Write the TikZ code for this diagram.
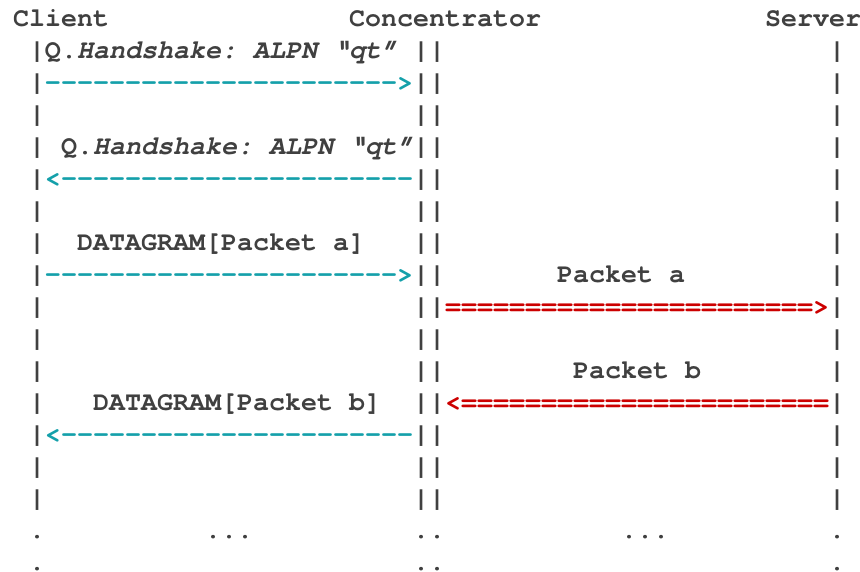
\documentclass[tikz,border=0pt]{standalone}
\usepackage{fontspec}
\setmonofont{TeX Gyre Cursor}
\definecolor{ink}{HTML}{404040}
\definecolor{quic}{HTML}{14A0AA}
\definecolor{relay}{HTML}{CC0000}
\tikzset{
  glyph/.style={anchor=base west, inner sep=0pt, outer sep=0pt, text=ink,
    font=\fontsize{26.67pt}{32pt}\selectfont\ttfamily\bfseries},
  quicmsg/.style={text=quic},
  relaymsg/.style={text=relay},
}
% place text at a character cell: column #3, row #4
\newcommand\gridtext[5][]{%
  \node[glyph,#1] (#2) at ({(13+16*#3)*1pt},{-(26.5+32*(#4-1))*1pt}) {#5};}
\begin{document}
\begin{tikzpicture}
\useasboundingbox (0,0) rectangle (860pt,-572pt);

% participants
\gridtext{client}{0}{1}{Client}
\gridtext{concentrator}{21}{1}{Concentrator}
\gridtext{server}{47}{1}{Server}

% lifelines
\foreach \r in {2,...,16} {
  \gridtext{lc\r}{1}{\r}{|}
  \gridtext{lm\r}{25}{\r}{||}
  \gridtext{ls\r}{51}{\r}{|}
}
\gridtext{dc1}{1}{17}{.}
\gridtext{dm1}{25}{17}{..}
\gridtext{ds1}{51}{17}{.}
\gridtext{dc2}{1}{18}{.}
\gridtext{dm2}{25}{18}{..}
\gridtext{ds2}{51}{18}{.}
\gridtext{ellA}{12}{17}{...}
\gridtext{ellB}{38}{17}{...}

% handshake
\gridtext{hs1}{2}{2}{Q.\itshape Handshake: ALPN “qt”}
\gridtext[quicmsg]{ar1}{2}{3}{---------------------->}
\gridtext{hs2}{3}{5}{Q.\itshape Handshake: ALPN “qt”}
\gridtext[quicmsg]{ar2}{2}{6}{<----------------------}

% packet a
\gridtext{dga}{4}{8}{DATAGRAM[Packet a]}
\gridtext[quicmsg]{ar3}{2}{9}{---------------------->}
\gridtext{pka}{34}{9}{Packet a}
\gridtext[relaymsg]{ar4}{27}{10}{=======================>}

% packet b
\gridtext{pkb}{35}{12}{Packet b}
\gridtext{dgb}{5}{13}{DATAGRAM[Packet b]}
\gridtext[relaymsg]{ar5}{27}{13}{<=======================}
\gridtext[quicmsg]{ar6}{2}{14}{<----------------------}
\end{tikzpicture}
\end{document}
